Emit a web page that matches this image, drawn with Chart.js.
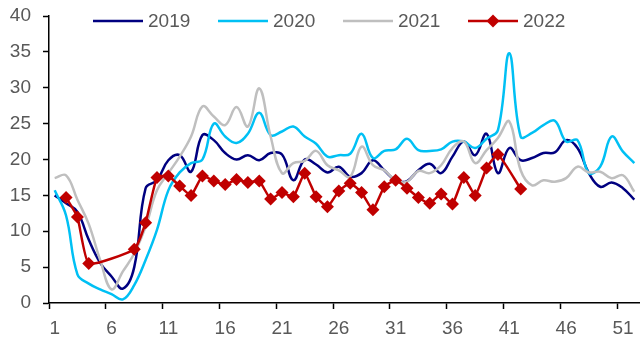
<!DOCTYPE html>
<html>
<head>
<meta charset="utf-8">
<script src="https://cdn.jsdelivr.net/npm/chart.js@4/dist/chart.umd.min.js"></script>
<style>
  html, body { margin: 0; padding: 0; background: #ffffff; overflow: hidden; }
  #wrap { width: 640px; height: 339px; position: relative; overflow: hidden; }
  #wrap canvas { display: block; }
</style>
</head>
<body>
<div id="wrap"><canvas id="chart"></canvas></div>
<script>
// Week numbers on the category axis
const weeks = ['1','2','3','4','5','6','7','8','9','10','11','12','13','14','15','16','17','18','19','20',
  '21','22','23','24','25','26','27','28','29','30','31','32','33','34','35','36','37','38','39','40',
  '41','42','43','44','45','46','47','48','49','50','51','52'];

// Weekly values per year
const values2019 = [15.0, 13.9, 12.7, 8.8, 5.6, 3.7, 2.0, 5.0, 16.0, 17.1,
  19.9, 20.6, 18.3, 23.4, 22.7, 20.9, 20.0, 20.6, 19.9, 20.9,
  20.7, 17.1, 20.0, 19.3, 18.2, 19.0, 17.6, 18.1, 19.9, 18.5,
  17.1, 17.0, 18.5, 19.4, 18.1, 20.4, 22.5, 20.6, 23.6, 18.1,
  21.6, 19.9, 20.2, 20.9, 21.0, 22.7, 21.6, 18.1, 16.2, 16.8, 16.0, 14.4];

const values2020 = [15.7, 12.2, 4.0, 2.7, 1.9, 1.25, 0.5, 2.5, 6.0, 10.2,
  15.7, 18.2, 19.5, 20.0, 25.0, 23.2, 22.3, 23.6, 26.5, 23.4,
  23.9, 24.6, 23.2, 22.2, 20.4, 20.6, 20.8, 23.6, 20.2, 21.2,
  21.4, 22.9, 21.3, 21.2, 21.4, 22.5, 22.5, 21.6, 22.9, 24.1,
  34.8, 23.2, 23.7, 24.8, 25.4, 22.5, 22.7, 18.1, 19.0, 23.2, 21.1, 19.5];

const values2021 = [17.4, 17.8, 14.4, 11.0, 6.0, 1.9, 4.4, 6.9, 10.6, 15.7,
  18.1, 20.4, 23.2, 27.4, 26.0, 24.8, 27.3, 24.6, 29.9, 23.2,
  18.1, 19.5, 19.8, 21.2, 19.2, 18.5, 17.6, 21.8, 19.2, 18.5,
  17.1, 16.9, 18.4, 18.1, 19.2, 21.6, 22.5, 19.5, 21.3, 23.0,
  25.3, 18.5, 16.4, 17.1, 16.9, 17.4, 19.0, 18.2, 18.3, 17.4, 17.8, 15.5];

const values2022 = [null, 14.7, 12.0, 5.5, null, null, null, 7.5, 11.2, 17.5,
  17.7, 16.3, 15.0, 17.7, 17.0, 16.5, 17.2, 16.8, 17.0, 14.5,
  15.4, 14.8, 18.1, 14.8, 13.4, 15.6, 16.7, 15.4, 13.0, 16.2,
  17.1, 16.0, 14.7, 13.9, 15.2, 13.8, 17.5, 15.0, 18.8, 20.7,
  null, 15.9];

const FONT = '"Liberation Sans", Arial, sans-serif';
const FONT_SIZE = 19;
const TEXT = '#595959';

// Legend row drawn across the top of the plot
const topLegend = {
  id: 'topLegend',
  afterDraw(chart) {
    const ctx = chart.ctx;
    const y = 21;
    ctx.save();
    chart.data.datasets.forEach((ds, i) => {
      const x0 = 93 + i * 125;
      ctx.strokeStyle = ds.borderColor;
      ctx.lineWidth = ds.borderWidth;
      ctx.beginPath();
      ctx.moveTo(x0, y);
      ctx.lineTo(x0 + 50, y);
      ctx.stroke();
      if (ds.pointRadius > 0) {
        const r = ds.pointRadius, cx = x0 + 25;
        ctx.fillStyle = ds.pointBackgroundColor;
        ctx.beginPath();
        ctx.moveTo(cx, y - r);
        ctx.lineTo(cx + r, y);
        ctx.lineTo(cx, y + r);
        ctx.lineTo(cx - r, y);
        ctx.closePath();
        ctx.fill();
      }
      ctx.fillStyle = TEXT;
      ctx.font = FONT_SIZE + 'px ' + FONT;
      ctx.textBaseline = 'middle';
      ctx.textAlign = 'left';
      ctx.fillText(ds.label, x0 + 55, y + 1);
    });
    ctx.restore();
  }
};

// Fixed plot frame: y axis 49px wide, x axis 36px tall, week axis reaching the right edge
function fixPadding(scale) {
  scale.paddingLeft = 0;
  scale.paddingTop = 0;
  scale.paddingBottom = 0;
  scale.paddingRight = 0;
}

new Chart(document.getElementById('chart'), {
  type: 'line',
  data: {
    labels: weeks,
    datasets: [
      { label: '2019', data: values2019, borderColor: '#000080', borderWidth: 2.5,
        pointRadius: 0, tension: 0.4, order: 4 },
      { label: '2020', data: values2020, borderColor: '#00C0F4', borderWidth: 2.5,
        pointRadius: 0, tension: 0.4, order: 3 },
      { label: '2021', data: values2021, borderColor: '#BFBFBF', borderWidth: 2.5,
        pointRadius: 0, tension: 0.4, order: 2 },
      { label: '2022', data: values2022, borderColor: '#C00000', borderWidth: 2.5,
        pointRadius: 6.5, pointHoverRadius: 6.5, pointStyle: 'rectRot',
        pointBackgroundColor: '#C00000', pointBorderColor: '#C00000', pointBorderWidth: 0,
        spanGaps: true, tension: 0.15, order: 1 }
    ]
  },
  options: {
    responsive: true,
    maintainAspectRatio: false,
    animation: false,
    events: [],
    layout: { autoPadding: false, padding: { top: 16, right: 0, bottom: 0, left: 0 } },
    plugins: {
      legend: { display: false },
      tooltip: { enabled: false }
    },
    scales: {
      x: {
        type: 'category',
        offset: true,
        afterFit(scale) {
          scale.height = 36;
          fixPadding(scale);
        },
        grid: {
          offset: true,
          drawOnChartArea: false,
          drawTicks: true,
          tickLength: 6,
          tickWidth: 1.5,
          tickColor: (c) => (typeof c.index === 'number' && c.index % 5 === 0) ? '#000000' : 'rgba(0,0,0,0)'
        },
        border: { color: '#000000', width: 1.5 },
        ticks: {
          autoSkip: false,
          maxRotation: 0,
          minRotation: 0,
          padding: 8,
          color: TEXT,
          font: { family: FONT, size: FONT_SIZE },
          callback: function (value, index) { return index % 5 === 0 ? this.getLabelForValue(value) : ''; }
        }
      },
      y: {
        min: 0,
        max: 40,
        afterFit(scale) {
          scale.width = 49;
          fixPadding(scale);
        },
        grid: {
          drawOnChartArea: false,
          drawTicks: true,
          tickLength: 6,
          tickWidth: 1.5,
          tickColor: '#000000'
        },
        border: { color: '#000000', width: 1.5 },
        ticks: {
          stepSize: 5,
          padding: 12,
          color: TEXT,
          font: { family: FONT, size: FONT_SIZE }
        }
      }
    }
  },
  plugins: [topLegend]
});
</script>
</body>
</html>
